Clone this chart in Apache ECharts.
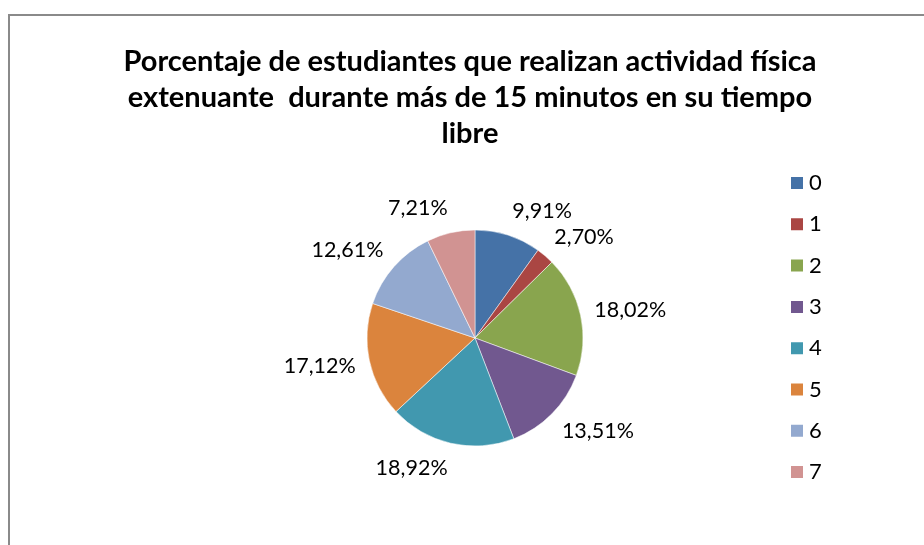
<!DOCTYPE html>
<html>
<head>
<meta charset="utf-8">
<style>
  html, body { margin: 0; padding: 0; background: #fff; }
  #chart { width: 924px; height: 545px; }
</style>
<script src="https://cdn.jsdelivr.net/npm/echarts@6/dist/echarts.min.js"></script>
</head>
<body>
<div id="chart"></div>
<script>
var categories = ['0', '1', '2', '3', '4', '5', '6', '7'];
// number of students per group (percentages shown are of 111)
var counts = [11, 3, 20, 15, 21, 19, 14, 8];
var colors = ['#4572A7', '#AA4643', '#89A54E', '#71588F', '#4198AF', '#DB843D', '#93A9CF', '#D19392'];

var titleText = 'Porcentaje de estudiantes que realizan actividad física\nextenuante  durante más de 15 minutos en su tiempo\nlibre';

var pieCenter = [475, 338],
    pieRadius = 108,
    labelRadius = 122;

var chart = echarts.init(document.getElementById('chart'));

var total = counts.reduce(function (a, b) { return a + b; }, 0);
var pieData = categories.map(function (c, i) {
    return { name: c, value: counts[i], itemStyle: { color: colors[i] } };
});

// excel style: label box just outside the slice, on the side of its mid angle
function placeLabel(params) {
    var before = 0;
    for (var i = 0; i < params.dataIndex; i++) before += counts[i];
    var mid = (before + counts[params.dataIndex] / 2) / total * Math.PI * 2;
    var dx = Math.sin(mid), dy = -Math.cos(mid);
    var w = params.labelRect.width, h = params.labelRect.height;
    return {
        x: pieCenter[0] + labelRadius * dx + (dx < 0 ? -1 : 1) * w / 2,
        y: pieCenter[1] + labelRadius * dy + dy * h / 2,
        align: 'center',
        verticalAlign: 'middle'
    };
}

chart.setOption({
    animation: false,
    textStyle: { fontFamily: 'Lato' },
    graphic: [{
        type: 'rect',
        shape: { x: 9, y: 15, width: 1000, height: 1000 },
        style: { fill: 'none', stroke: '#8a8a8a', lineWidth: 2 }
    }],
    title: {
        text: titleText,
        left: 465,
        top: 39,
        textAlign: 'center',
        textStyle: { fontFamily: 'Lato', fontSize: 29, fontWeight: 'bold', color: '#000', lineHeight: 36 }
    },
    legend: {
        orient: 'vertical',
        left: 784,
        top: 167,
        height: 380,
        itemWidth: 14,
        itemHeight: 14,
        itemGap: 19.3,
        icon: 'rect',
        data: categories,
        textStyle: { fontSize: 22, color: '#000', padding: [0, 0, 0, 0] }
    },
    series: [{
        type: 'pie',
        center: pieCenter,
        radius: pieRadius,
        startAngle: 90,
        clockwise: true,
        data: pieData,
        itemStyle: { borderColor: '#fff', borderWidth: 0.5 },
        label: {
            show: true,
            position: 'outside',
            fontSize: 21.5,
            color: '#000',
            formatter: function (p) {
                return p.percent.toFixed(2).replace('.', ',') + '%';
            }
        },
        labelLine: { show: false },
        labelLayout: placeLabel,
        emphasis: { disabled: true }
    }]
});
</script>
</body>
</html>
